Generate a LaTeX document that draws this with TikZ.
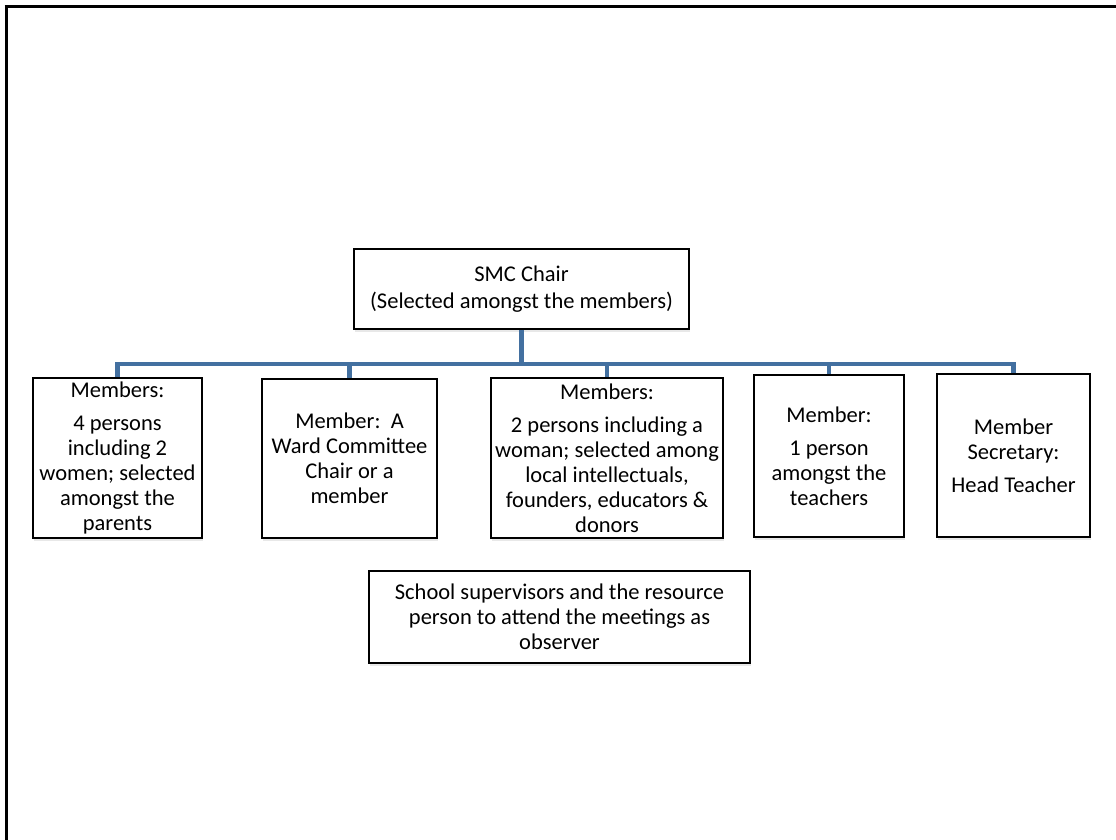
\documentclass[tikz,border=0pt]{standalone}
\usepackage{fontspec}
\setmainfont{Carlito}
\usetikzlibrary{shadows}
\definecolor{busblue}{RGB}{67,112,160}
\begin{document}
\begin{tikzpicture}[x=1pt,y=-1pt,
  box/.style={draw=black,line width=1.6pt,fill=white,align=center,inner sep=2pt,
    font=\fontsize{22.5}{25}\selectfont,
    drop shadow={opacity=0.18,shadow xshift=1pt,shadow yshift=-2.5pt}},
  link/.style={draw=busblue,line width=4.5pt,line join=miter}]
  \useasboundingbox (0,0) rectangle (1116,840);
  % page frame (top and left edges)
  \draw[line width=3pt] (6,8.5) -- (6,840);
  \draw[line width=3pt] (4.5,7) -- (1116,7);

  % chair
  \node[box,minimum width=335,minimum height=80,
        font=\fontsize{22.5}{27}\selectfont] (chair) at (521.5,289)
    {SMC Chair\\(Selected amongst the members)};

  % members row
  \node[box,minimum width=169,minimum height=160] (b1) at (117.5,458)
    {Members:\\[8pt]4 persons\\including 2\\women; selected\\amongst the\\parents};
  \node[box,minimum width=175,minimum height=159] (b2) at (349.5,458.5)
    {Member:\ \ A\\Ward Committee\\Chair or a\\member};
  \node[box,minimum width=232,minimum height=160] (b3) at (607,458)
    {Members:\\[8pt]2 persons including a\\woman; selected among\\local intellectuals,\\founders, educators \&\\donors};
  \node[box,minimum width=150,minimum height=162] (b4) at (829,456)
    {Member:\\[8pt]1 person\\amongst the\\teachers};
  \node[box,minimum width=153,minimum height=163] (b5) at (1013.5,455.5)
    {Member\\Secretary:\\[8pt]Head Teacher};

  % observers
  \node[box,minimum width=381,minimum height=92] (obs) at (559.5,617)
    {School supervisors and the resource\\person to attend the meetings as\\observer};

  % connectors
  \coordinate (bus) at (0,364);
  \draw[link] (b1.north) -- (b1.north |- bus) -- (b5.north |- bus) -- (b5.north);
  \draw[link] (chair.south) -- (chair.south |- bus);
  \draw[link] (b2.north) -- (b2.north |- bus);
  \draw[link] (b3.north) -- (b3.north |- bus);
  \draw[link] (b4.north) -- (b4.north |- bus);
\end{tikzpicture}
\end{document}
